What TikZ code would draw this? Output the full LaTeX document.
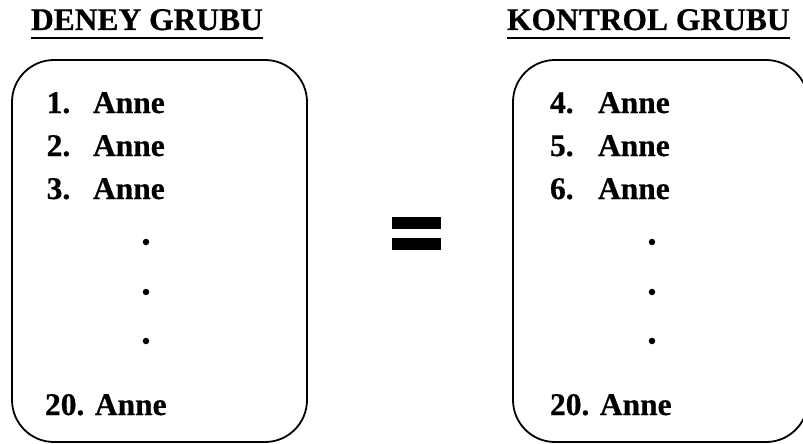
\documentclass[tikz,border=0pt]{standalone}
\usepackage{fontspec}
\setmainfont{Liberation Serif}[BoldFeatures={FakeBold=0.6}]
\begin{document}
\begin{tikzpicture}[x=1pt,y=-1pt,
  txt/.style={inner sep=0pt, outer sep=0pt, anchor=base west, font=\fontsize{31.5}{36}\selectfont\bfseries},
  dotc/.style={fill=black, circle, inner sep=0pt, outer sep=0pt, minimum size=6.5pt},
  box/.style={draw, line width=1.8pt, rounded corners=42pt, inner sep=0pt, outer sep=0pt, minimum width=295pt, minimum height=382pt, anchor=north west},
  uline/.style={line width=2.8pt},
  eqbar/.style={fill=black, draw=none, inner sep=0pt, outer sep=0pt, minimum width=49pt, minimum height=12pt, anchor=north west}]
\useasboundingbox (0,0) rectangle (803,444);
% boxes
\node[box] (L) at (12,60) {};
\node[box] (R) at (513,60) {};
% headings
\node[txt] (hL) at (31,30) {DENEY GRUBU};
\node[txt] (hR) at (507,30) {KONTROL GRUBU};
\draw[uline] ([yshift=-8pt]hL.base west) -- ([yshift=-8pt]hL.base east);
\draw[uline] ([yshift=-8pt]hR.base west) -- ([yshift=-8pt]hR.base east);
% left list
\node[txt] (l1n) at (46.7,113) {1.};
\node[txt] (l1a) at (93,113) {Anne};
\node[txt] (l2n) at (46.7,156) {2.};
\node[txt] (l2a) at (93,156) {Anne};
\node[txt] (l3n) at (46.7,199) {3.};
\node[txt] (l3a) at (93,199) {Anne};
\node[dotc] (ld1) at (146,242) {};
\node[dotc] (ld2) at (146,292) {};
\node[dotc] (ld3) at (146,341) {};
\node[txt] (l20) at (45,415) {20. Anne};
% right list
\node[txt] (r1n) at (550,113) {4.};
\node[txt] (r1a) at (598,113) {Anne};
\node[txt] (r2n) at (550,156) {5.};
\node[txt] (r2a) at (598,156) {Anne};
\node[txt] (r3n) at (550,199) {6.};
\node[txt] (r3a) at (598,199) {Anne};
\node[dotc] (rd1) at (652,242) {};
\node[dotc] (rd2) at (652,292) {};
\node[dotc] (rd3) at (652,341) {};
\node[txt] (r20) at (550,415) {20. Anne};
% equals sign
\node[eqbar] (eq1) at (392,217) {};
\node[eqbar] (eq2) at (392,238) {};
\end{tikzpicture}
\end{document}
